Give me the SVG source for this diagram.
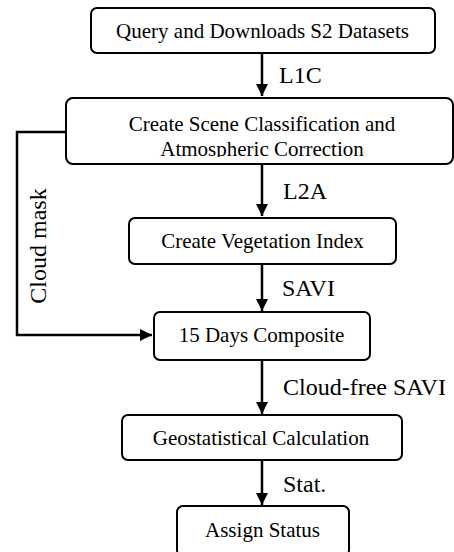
<svg xmlns="http://www.w3.org/2000/svg" width="454" height="552" viewBox="0 0 454 552">
<style>
.box{fill:#fff;stroke:#000;stroke-width:2}
.t{font-family:"Liberation Serif","Times New Roman",serif;font-size:21px;fill:#000;text-anchor:middle}
.l{font-family:"Liberation Serif","Times New Roman",serif;font-size:24px;fill:#000}
.c{fill:none;stroke:#000;stroke-width:2.5}
</style>
<defs>
<marker id="ah" viewBox="0 0 10 10" refX="10" refY="5" markerWidth="5" markerHeight="5.5" orient="auto" markerUnits="strokeWidth">
<path d="M0,0 L10,5 L0,10 z" fill="#000"/>
</marker>
<clipPath id="cp2"><rect x="66" y="98" width="387" height="59"/></clipPath>
</defs>
<g id="connectors">
<line class="c" x1="262" y1="53" x2="262" y2="96" marker-end="url(#ah)"/>
<line class="c" x1="262" y1="164" x2="262" y2="216" marker-end="url(#ah)"/>
<line class="c" x1="262" y1="264" x2="262" y2="311" marker-end="url(#ah)"/>
<line class="c" x1="262" y1="360" x2="262" y2="414" marker-end="url(#ah)"/>
<line class="c" x1="262" y1="460" x2="262" y2="505" marker-end="url(#ah)"/>
<polyline class="c" points="65,132 17,132 17,335 152,335" marker-end="url(#ah)"/>
<text class="l" x="279" y="83">L1C</text>
<text class="l" x="283" y="199">L2A</text>
<text class="l" x="282" y="296">SAVI</text>
<text class="l" x="283" y="395">Cloud-free SAVI</text>
<text class="l" x="283" y="492">Stat.</text>
<text class="l" text-anchor="middle" transform="translate(46,246) rotate(-90)">Cloud mask</text>
</g>
<g id="n1">
<rect class="box" x="91" y="8" width="344" height="45" rx="6"/>
<text class="t" x="262.5" y="38">Query and Downloads S2 Datasets</text>
</g>
<g id="n2">
<rect class="box" x="66" y="98" width="387" height="66" rx="7"/>
<g clip-path="url(#cp2)">
<text class="t" x="262" y="131">Create Scene Classification and</text>
<text class="t" x="262" y="155.5">Atmospheric Correction</text>
</g>
</g>
<g id="n3">
<rect class="box" x="129" y="218" width="267" height="46" rx="6"/>
<text class="t" x="262.5" y="248">Create Vegetation Index</text>
</g>
<g id="n4">
<rect class="box" x="154" y="312" width="216" height="48" rx="6"/>
<text class="t" x="261.5" y="342">15 Days Composite</text>
</g>
<g id="n5">
<rect class="box" x="122" y="415" width="280" height="45" rx="6"/>
<text class="t" x="261" y="445">Geostatistical Calculation</text>
</g>
<g id="n6">
<rect class="box" x="177" y="506" width="172" height="50" rx="6"/>
<text class="t" x="262.5" y="537">Assign Status</text>
</g>
</svg>
